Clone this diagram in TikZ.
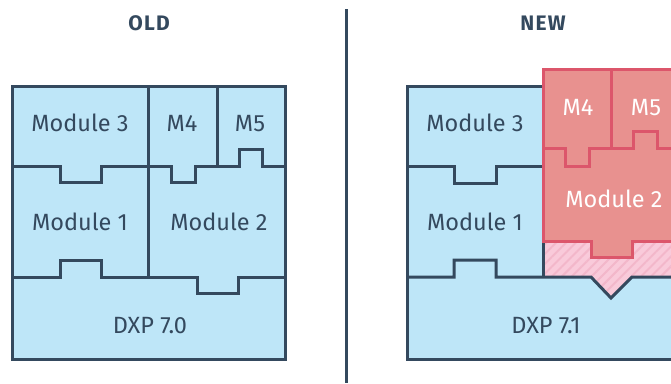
\documentclass[tikz,border=0pt]{standalone}
\usepackage{fontspec}
\setmainfont{Fira Sans}
\usetikzlibrary{patterns.meta}
\definecolor{bluefill}{HTML}{BEE6F8}
\definecolor{dark}{HTML}{34495E}
\definecolor{redfill}{HTML}{E8918F}
\definecolor{redline}{HTML}{DC566B}
\definecolor{pinkfill}{HTML}{F9CADA}
\definecolor{pinkstripe}{HTML}{F3B7CA}
\tikzset{
  box/.style={fill=bluefill, draw=dark, line width=3pt, line join=miter},
  sep/.style={draw=dark, line width=3pt, line join=miter},
  redbox/.style={fill=redfill, draw=redline, line width=3pt, line join=miter},
  redsep/.style={draw=redline, line width=3pt, line join=miter},
  lbl/.style={font=\fontsize{23.5}{27}\selectfont, text=dark, anchor=base, inner sep=0pt},
  wlbl/.style={lbl, text=white},
  ttl/.style={font=\fontsize{21}{24}\selectfont\bfseries\addfontfeatures{LetterSpace=6}, text=dark, anchor=base, inner sep=0pt}
}
\begin{document}
\begin{tikzpicture}[x=1pt,y=-1pt]
\useasboundingbox (0,0) rectangle (671,383);
\clip (0,0) rectangle (671,383);
% titles and divider
\node[ttl] (tOld) at (149,30) {OLD};
\node[ttl] (tNew) at (543,30) {NEW};
\draw[dark, line width=3pt] (346,9) -- (346,383);

% ---------- OLD ----------
\draw[box] (12,86) rectangle (285,359);
\draw[sep] (148,86) -- (148,277);
\draw[sep] (217,86) -- (217,166);
\draw[sep] (12,166) -- (60,166) -- (60,182) -- (101,182) -- (101,166) -- (171,166) -- (171,182) -- (195,182) -- (195,166) -- (239,166) -- (239,149) -- (262,149) -- (262,166) -- (285,166);
\draw[sep] (12,277) -- (60,277) -- (60,260) -- (101,260) -- (101,277) -- (197,277) -- (197,293) -- (238,293) -- (238,277) -- (285,277);
\node[lbl] (o3) at (80,131) {Module 3};
\node[lbl] (o4) at (182,131) {M4};
\node[lbl] (o5) at (250,131) {M5};
\node[lbl] (o1) at (80,230) {Module 1};
\node[lbl] (o2) at (219,230) {Module 2};
\node[lbl] (od) at (150,333) {DXP 7.0};

% ---------- NEW ----------
\draw[box] (407,86) rectangle (700,359);
\fill[pinkfill] (543,241) -- (700,241) -- (700,277) -- (632,277) -- (611,298) -- (591,277) -- (543,277) -- cycle;
\fill[pattern={Lines[angle=45,distance=7pt,line width=2pt]}, pattern color=pinkstripe] (543,241) -- (700,241) -- (700,277) -- (632,277) -- (611,298) -- (591,277) -- (543,277) -- cycle;
\draw[sep] (407,166) -- (454,166) -- (454,183) -- (496,183) -- (496,166) -- (543,166);
\draw[sep] (407,277) -- (454,277) -- (454,260) -- (496,260) -- (496,277) -- (591,277) -- (611,298) -- (632,277) -- (700,277);
\draw[sep] (543,86) -- (543,277);
\draw[redbox] (543,69) -- (700,69) -- (700,241) -- (632,241) -- (632,257) -- (591,257) -- (591,241) -- (543,241) -- cycle;
\draw[redsep] (611,69) -- (611,148);
\draw[redsep] (543,148) -- (565,148) -- (565,166) -- (589,166) -- (589,148) -- (633,148) -- (633,131) -- (657,131) -- (657,148) -- (700,148);
\node[lbl] (n3) at (475,131) {Module 3};
\node[lbl] (n1) at (475,230) {Module 1};
\node[wlbl] (n4) at (578,115) {M4};
\node[wlbl] (n5) at (646,115) {M5};
\node[wlbl] (n2) at (614,207) {Module 2};
\node[lbl] (nd) at (546,333) {DXP 7.1};
\end{tikzpicture}
\end{document}
